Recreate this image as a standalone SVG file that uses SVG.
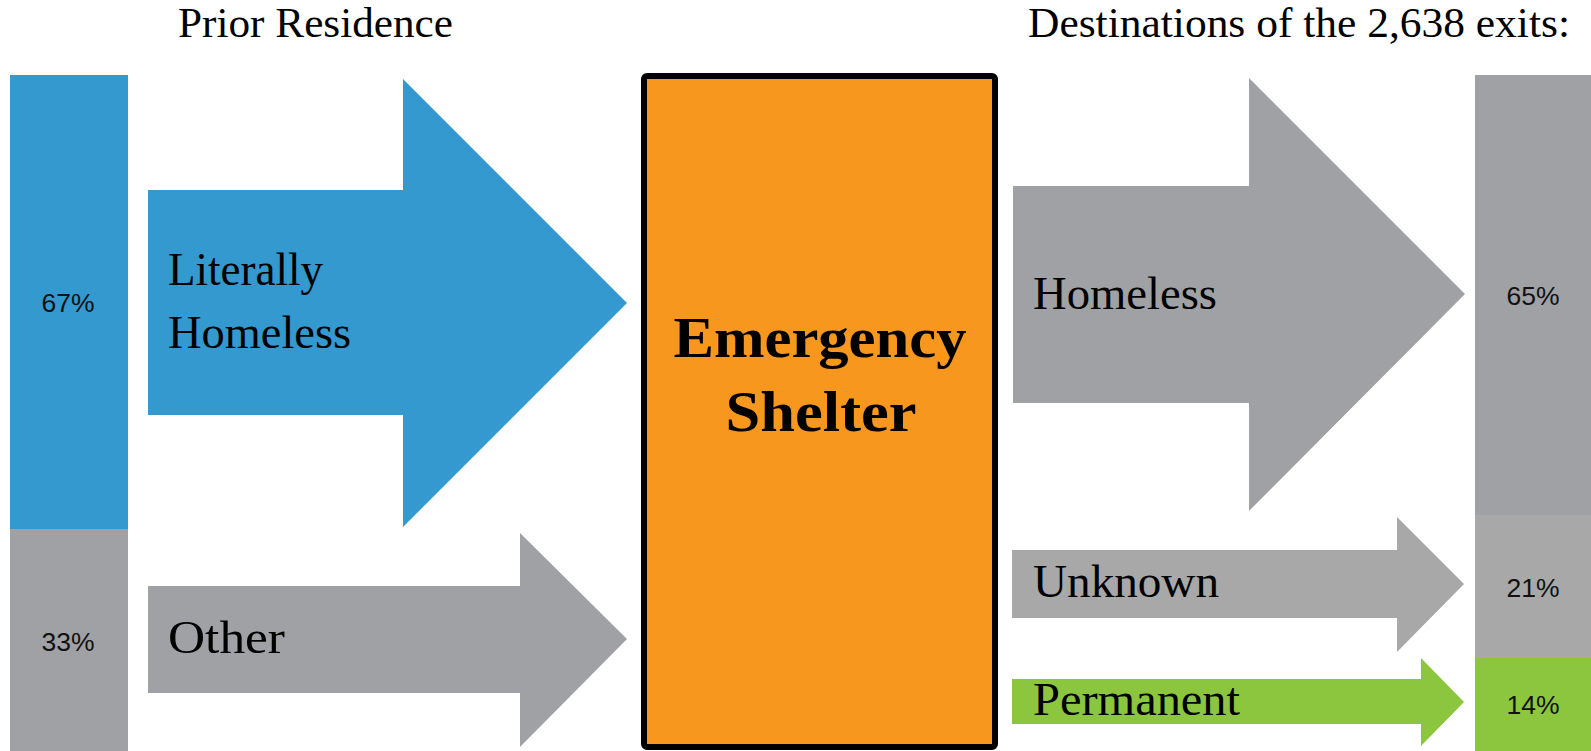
<svg xmlns="http://www.w3.org/2000/svg" width="1591" height="751" viewBox="0 0 1591 751">
<style>
.blue{fill:#3399cf}
.gray{fill:#a0a1a5}
.lgray{fill:#a8a8a8}
.green{fill:#8cc63f}
.pct{font-family:"Liberation Sans",Arial,sans-serif;font-size:26.5px;fill:#111;text-anchor:middle}
.lbl{font-family:"Liberation Serif","Times New Roman",serif;font-size:46px;fill:#000}
.hdr{font-family:"Liberation Serif","Times New Roman",serif;font-size:42px;fill:#000}
.big{font-family:"Liberation Serif","Times New Roman",serif;font-size:56px;font-weight:bold;fill:#000;text-anchor:middle}
</style>
<rect width="1591" height="751" fill="#fff"/>
<g id="headers">
<text class="hdr" x="178" y="37" textLength="275" lengthAdjust="spacingAndGlyphs">Prior Residence</text>
<text class="hdr" x="1028" y="37" textLength="542" lengthAdjust="spacingAndGlyphs">Destinations of the 2,638 exits:</text>
</g>
<g id="prior-literally">
<rect class="blue" x="10" y="75" width="118" height="454"/>
<text class="pct" x="68" y="312">67%</text>
</g>
<g id="prior-other">
<rect class="gray" x="10" y="529" width="118" height="222"/>
<text class="pct" x="68" y="651">33%</text>
</g>
<g id="shelter">
<rect x="644" y="76" width="351" height="671" rx="3" fill="#f7971e" stroke="#000" stroke-width="6"/>
<text class="big" x="820" y="357" textLength="293" lengthAdjust="spacingAndGlyphs">Emergency</text>
<text class="big" x="821" y="431" textLength="191" lengthAdjust="spacingAndGlyphs">Shelter</text>
</g>
<g id="dest-homeless">
<rect class="gray" x="1475" y="75" width="116" height="440"/>
<text class="pct" x="1533" y="305">65%</text>
</g>
<g id="dest-unknown">
<rect class="lgray" x="1475" y="515" width="116" height="143"/>
<text class="pct" x="1533" y="597">21%</text>
</g>
<g id="dest-permanent">
<rect class="green" x="1475" y="658" width="116" height="93"/>
<text class="pct" x="1533" y="714">14%</text>
</g>
<g id="connectors">
<g id="arrow-literally">
<polygon class="blue" points="148,190 403,190 403,79 627,303 403,527 403,415 148,415"/>
<text class="lbl" x="168" y="285" textLength="155" lengthAdjust="spacingAndGlyphs">Literally</text>
<text class="lbl" x="168" y="348" textLength="183" lengthAdjust="spacingAndGlyphs">Homeless</text>
</g>
<g id="arrow-other">
<polygon class="gray" points="148,586 520,586 520,533 627,639 520,747 520,693 148,693"/>
<text class="lbl" x="168" y="653" textLength="117" lengthAdjust="spacingAndGlyphs">Other</text>
</g>
<g id="arrow-homeless">
<polygon class="gray" points="1013,186 1249,186 1249,78 1465,294 1249,511 1249,403 1013,403"/>
<text class="lbl" x="1033" y="309" textLength="184" lengthAdjust="spacingAndGlyphs">Homeless</text>
</g>
<g id="arrow-unknown">
<polygon class="lgray" points="1012,550 1397,550 1397,517 1464,584 1397,652 1397,618 1012,618"/>
<text class="lbl" x="1033" y="597" textLength="186" lengthAdjust="spacingAndGlyphs">Unknown</text>
</g>
<g id="arrow-permanent">
<polygon class="green" points="1012,679 1421,679 1421,658 1464,702 1421,746 1421,724 1012,724"/>
<text class="lbl" x="1033" y="715" textLength="207" lengthAdjust="spacingAndGlyphs">Permanent</text>
</g>
</g>
</svg>
